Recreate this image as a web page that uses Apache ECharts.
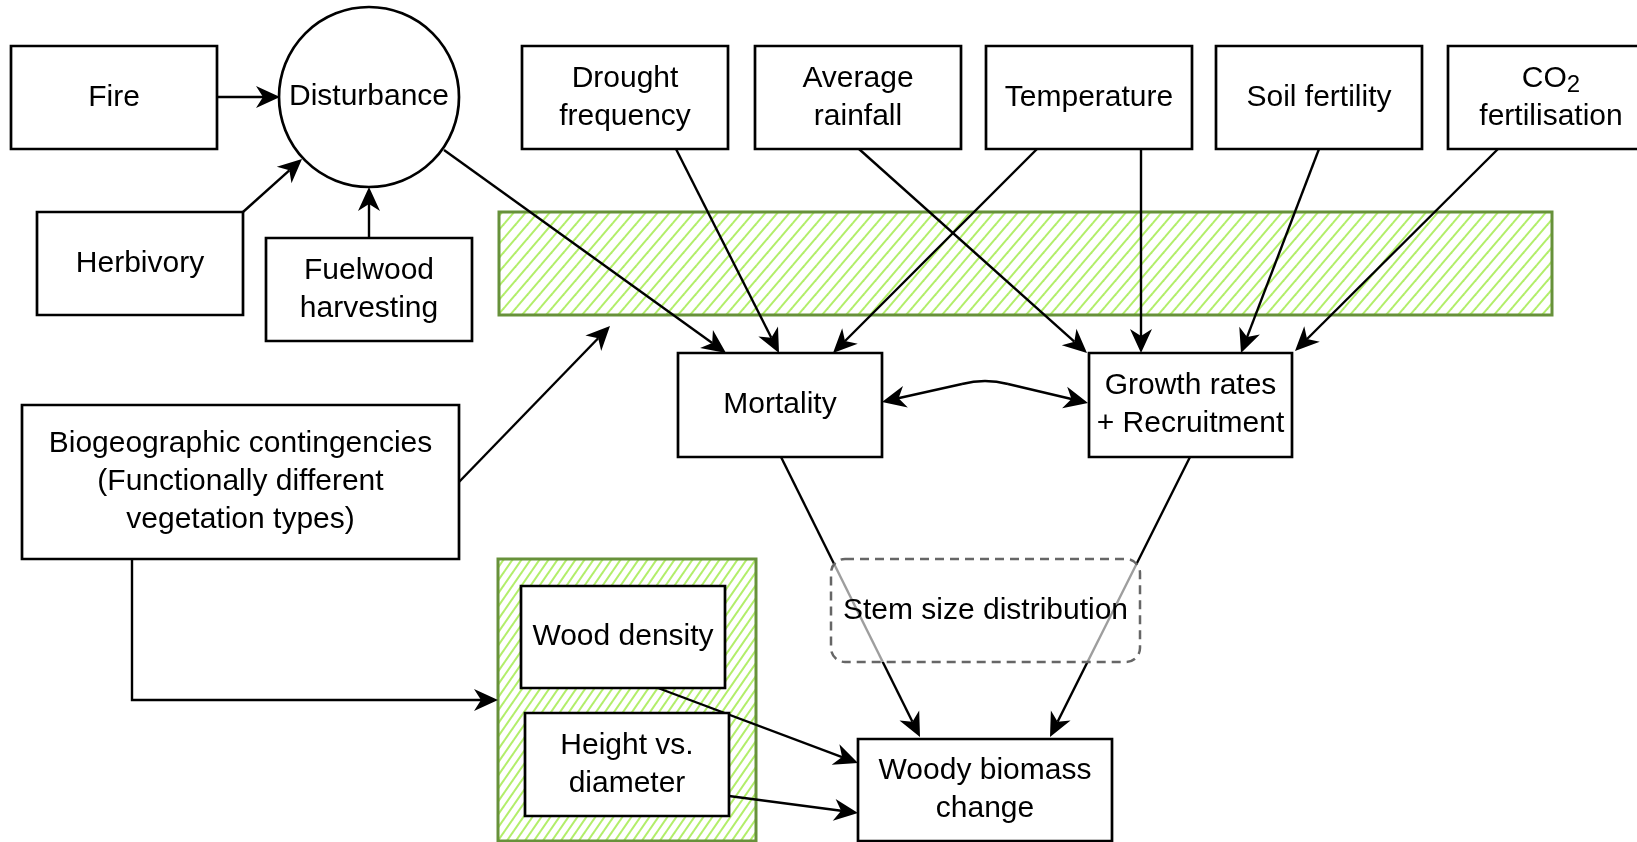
<!DOCTYPE html>
<html>
<head>
<meta charset="utf-8">
<script src="https://cdn.jsdelivr.net/npm/echarts@6.0.0/dist/echarts.min.js"></script>
<style>
  html, body { margin: 0; padding: 0; background: #fff; }
  #main { width: 1637px; height: 842px; }
</style>
</head>
<body>
<div id="main"></div>
<script>
// 文字内容
var disturbanceLabels = ['Fire', 'Herbivory', 'Fuelwood\nharvesting'];
var disturbanceName = 'Disturbance';
var driverLabels = ['Drought\nfrequency', 'Average\nrainfall', 'Temperature', 'Soil fertility', '{n|CO}{s|2}\n{n|fertilisation}'];
var processLabels = ['Mortality', 'Growth rates\n+ Recruitment'];
var contextLabel = 'Biogeographic contingencies\n(Functionally different\nvegetation types)';
var traitLabels = ['Wood density', 'Height vs.\ndiameter'];
var mediatorLabel = 'Stem size distribution';
var outcomeLabel = 'Woody biomass\nchange';

// 连线: 驱动因子 -> 过程 (0 = Mortality, 1 = Growth)
var driverLinks = [[0, 0], [1, 1], [2, 0], [2, 1], [3, 1], [4, 1]];

var FONT = '30px "Liberation Sans", Arial, sans-serif';
var HEAD_L = 24, HEAD_W = 11, HEAD_N = 7;
var graphics = [];

// 斜线填充
function hatch(w, h, color) {
    var c = document.createElement('canvas');
    c.width = w; c.height = h;
    var ctx = c.getContext('2d');
    ctx.strokeStyle = color;
    ctx.lineWidth = 2;
    for (var k = -1; k <= 1; k++) {
        ctx.beginPath();
        ctx.moveTo(k * w - w, 2 * h);
        ctx.lineTo(k * w + 2 * w, -h);
        ctx.stroke();
    }
    return { image: c, repeat: 'repeat' };
}

function label(cx, cy, text, z) {
    return {
        type: 'text', z: z || 30,
        style: {
            x: cx, y: cy, text: text, font: FONT, fill: '#000', lineHeight: 38,
            align: 'center', verticalAlign: 'middle', textAlign: 'center', textVerticalAlign: 'middle',
            rich: {
                n: { font: FONT, lineHeight: 38 },
                s: { font: '24px "Liberation Sans", Arial, sans-serif', lineHeight: 20, verticalAlign: 'bottom' }
            }
        }
    };
}

function box(x, y, w, h, text) {
    graphics.push({
        type: 'rect', z: 10,
        shape: { x: x, y: y, width: w, height: h },
        style: { fill: '#fff', stroke: '#000', lineWidth: 2.7 }
    });
    graphics.push(label(x + w / 2, y + h / 2, text));
}

function head(tx, ty, fx, fy) {
    var dx = tx - fx, dy = ty - fy, len = Math.sqrt(dx * dx + dy * dy);
    var ux = dx / len, uy = dy / len, vx = -uy, vy = ux;
    var bx = tx - ux * HEAD_L, by = ty - uy * HEAD_L;
    return {
        type: 'polygon', z: 12,
        shape: { points: [[tx, ty], [bx + vx * HEAD_W, by + vy * HEAD_W],
            [tx - ux * (HEAD_L - HEAD_N), ty - uy * (HEAD_L - HEAD_N)], [bx - vx * HEAD_W, by - vy * HEAD_W]] },
        style: { fill: '#000' }
    };
}

// 折线箭头, 最后一点是箭头尖
function arrow(pts) {
    var n = pts.length, t = pts[n - 1], f = pts[n - 2];
    var dx = t[0] - f[0], dy = t[1] - f[1], len = Math.sqrt(dx * dx + dy * dy);
    var line = pts.slice(0, n - 1);
    line.push([t[0] - dx / len * (HEAD_L - HEAD_N), t[1] - dy / len * (HEAD_L - HEAD_N)]);
    graphics.push({ type: 'polyline', z: 5, shape: { points: line }, style: { stroke: '#000', lineWidth: 2.4, fill: null } });
    graphics.push(head(t[0], t[1], f[0], f[1]));
}

// 绿色区域
graphics.push({ type: 'rect', z: 1, shape: { x: 499, y: 212, width: 1053, height: 103 },
    style: { fill: hatch(12, 14, '#b2ee6a'), stroke: '#67913a', lineWidth: 3 } });
graphics.push({ type: 'rect', z: 1, shape: { x: 498, y: 559, width: 258, height: 282 },
    style: { fill: hatch(9, 13, '#b2ee6a'), stroke: '#67913a', lineWidth: 3 } });

// 干扰
box(11, 46, 206, 103, disturbanceLabels[0]);
box(37, 212, 206, 103, disturbanceLabels[1]);
box(266, 238, 206, 103, disturbanceLabels[2]);
graphics.push({
    type: 'circle', z: 10, shape: { cx: 369, cy: 97, r: 90 },
    style: { fill: '#fff', stroke: '#000', lineWidth: 2.7 }
});
graphics.push(label(369, 97, disturbanceName));
arrow([[217, 97], [280, 97]]);
arrow([[243, 212], [302, 159]]);
arrow([[369, 238], [369, 187]]);

// 顶部驱动因子
var driverX = [522, 755, 986, 1216, 1448];
driverLabels.forEach(function (lab, i) {
    box(driverX[i], 46, 206, 103, lab);
});

// 过程
box(678, 353, 204, 104, processLabels[0]);
box(1089, 353, 203, 104, processLabels[1]);

arrow([[444, 150], [726, 353]]);
var starts = [676, 859, 1037, 1141, 1319, 1498];
var tips = [[779, 353], [1087, 353], [833, 353], [1141, 353], [1241, 353], [1295, 351]];
driverLinks.forEach(function (l, i) {
    arrow([[starts[i], 149], tips[i]]);
});

// 双向弯曲箭头
graphics.push({ type: 'polyline', z: 5, shape: { points: [[888, 400.5], [962, 384]] }, style: { stroke: '#000', lineWidth: 2.4 } });
graphics.push({ type: 'bezierCurve', z: 5, shape: { x1: 962, y1: 384, cpx1: 985, cpy1: 378, x2: 1008, y2: 384 }, style: { stroke: '#000', lineWidth: 2.4, fill: null } });
graphics.push({ type: 'polyline', z: 5, shape: { points: [[1008, 384], [1082, 401.5]] }, style: { stroke: '#000', lineWidth: 2.4 } });
graphics.push(head(882, 402, 962, 384));
graphics.push(head(1088, 403, 1008, 384));

// 生物地理
box(22, 405, 437, 154, contextLabel);
arrow([[459, 482], [610, 326]]);
arrow([[132, 559], [132, 700], [498, 700]]);

// 性状
box(521, 586, 204, 102, traitLabels[0]);
box(525, 713, 204, 103, traitLabels[1]);

// 结果
box(858, 739, 254, 102, outcomeLabel);
arrow([[781, 457], [920, 737]]);
arrow([[1190, 457], [1050, 737]]);
arrow([[658, 688], [858, 763]]);
arrow([[729, 796], [858, 813]]);

// 茎径分布 (虚线框)
graphics.push({
    type: 'rect', z: 8, shape: { x: 831, y: 559, width: 309, height: 103, r: 14 },
    style: { fill: 'rgba(255,255,255,0.62)', stroke: '#666', lineWidth: 2.5, lineDash: [9, 6] }
});
graphics.push(label(985.5, 610.5, mediatorLabel));

var chart = echarts.init(document.getElementById('main'));
chart.setOption({
    backgroundColor: '#fff',
    animation: false,
    graphic: { elements: graphics }
});
</script>
</body>
</html>
